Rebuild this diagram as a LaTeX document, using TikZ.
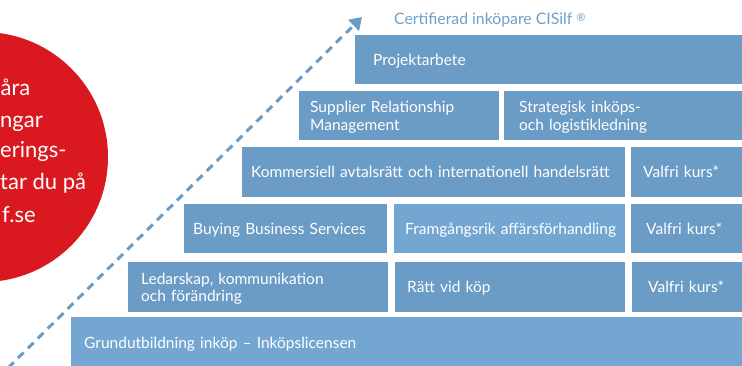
\documentclass[tikz,border=0pt]{standalone}
\usepackage{fontspec}
\setmainfont{Lato}
\usetikzlibrary{arrows.meta}
\definecolor{boxblue}{HTML}{6B9CC5}
\definecolor{boxlight}{HTML}{73A6D0}
\definecolor{titleblue}{HTML}{6E9FC9}
\definecolor{silfred}{HTML}{DA1820}
\newcommand\bxt[1]{\rule{0pt}{11.5pt}\smash{#1}}
\begin{document}
\begin{tikzpicture}[x=1pt,y=-1pt,
  box/.style={fill=boxblue, text=white, anchor=north west, inner ysep=0pt, align=left,
    font=\fontsize{15.5}{17.5}\selectfont},
  lightbox/.style={box, fill=boxlight},
  circtext/.style={text=white, anchor=base west, inner sep=0pt, font=\fontsize{22}{26}\selectfont},
  arrowline/.style={draw=boxblue, line width=3pt, dash pattern=on 8pt off 6pt,
    -{Triangle[length=12pt,width=15pt]}}
]
\useasboundingbox (0,0) rectangle (742,365);

% red circle
\node[circle, fill=silfred, minimum size=250pt, inner sep=0pt] (circ) at (-17,157) {};
\node[circtext] (c1) at (0.5,95) {åra};
\node[circtext] (c2) at (0,127) {ngar};
\node[circtext] (c3) at (0,157) {erings-};
\node[circtext] (c4) at (0,189) {tar du på};
\node[circtext] (c5) at (2,222) {f.se};

% title
\node[text=titleblue, anchor=base west, inner sep=0pt, font=\fontsize{15.8}{18}\selectfont] (title) at (394,24)
  {Certifierad inköpare CISilf \raisebox{3pt}{\fontsize{11}{11}\selectfont ®}};

% boxes
\node[box, minimum width=387pt, minimum height=49pt, inner xsep=18pt, text width=351pt] (proj) at (355,35) {\bxt{Projektarbete}};

\node[box, minimum width=200pt, minimum height=49pt, inner xsep=11pt, text width=178pt] (srm) at (299,91) {\bxt{Supplier Relationship}\\\smash{Management}};
\node[box, minimum width=238pt, minimum height=49pt, inner xsep=15pt, text width=208pt] (strat) at (504,91) {\bxt{Strategisk inköps-}\\\smash{och logistikledning}};

\node[box, minimum width=383pt, minimum height=50pt, inner xsep=9pt, text width=365pt] (kom) at (242,147) {\bxt{Kommersiell avtalsrätt och internationell handelsrätt}};
\node[box, minimum width=111pt, minimum height=50pt, inner xsep=12pt, text width=87pt] (val1) at (631,147) {\bxt{Valfri kurs*}};

\node[box, minimum width=203pt, minimum height=49pt, inner xsep=9pt, text width=185pt] (bbs) at (184,204) {\bxt{Buying Business Services}};
\node[lightbox, minimum width=231pt, minimum height=49pt, inner xsep=11pt, text width=209pt] (fram) at (394,204) {\bxt{Framgångsrik affärsförhandling}};
\node[box, minimum width=111pt, minimum height=49pt, inner xsep=15pt, text width=81pt] (val2) at (631,204) {\bxt{Valfri kurs*}};

\node[box, minimum width=260pt, minimum height=50pt, inner xsep=13pt, text width=234pt] (led) at (128,262) {\bxt{Ledarskap, kommunikation}\\\smash{och förändring}};
\node[box, minimum width=230pt, minimum height=50pt, inner xsep=12pt, text width=206pt] (ratt) at (395,262) {\bxt{Rätt vid köp}};
\node[box, minimum width=110pt, minimum height=50pt, inner xsep=16pt, text width=78pt] (val3) at (632,262) {\bxt{Valfri kurs*}};

\node[lightbox, minimum width=671pt, minimum height=52pt, inner xsep=13pt, text width=645pt] (grund) at (71,317) {\bxt{Grundutbildning inköp – Inköpslicensen}};

% dashed arrow
\coordinate (astart) at (8,368);
\coordinate (atip) at (362,17);
\draw[arrowline] (astart) -- (atip);
\end{tikzpicture}
\end{document}
